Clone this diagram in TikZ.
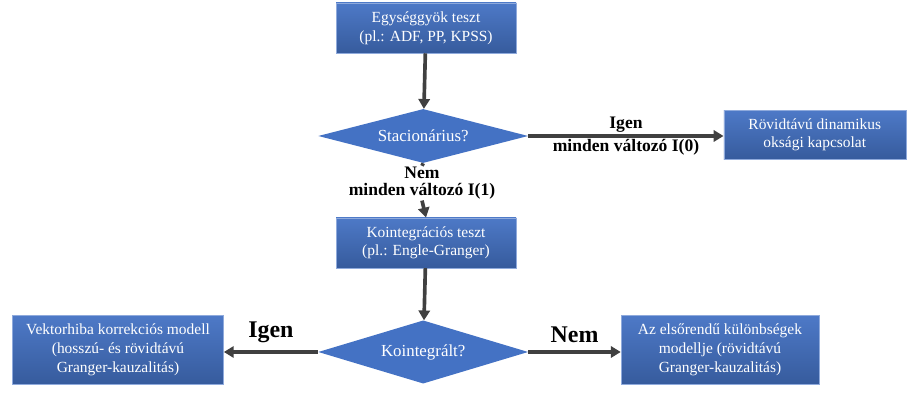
\documentclass[tikz,border=0pt]{standalone}
\usepackage{fontspec}
\setmainfont{Liberation Serif}
\usetikzlibrary{shapes.geometric,arrows.meta}
\definecolor{boxblue}{RGB}{68,114,196}
\definecolor{arrowgray}{RGB}{64,64,64}

\tikzset{
  stepbox/.style={draw=boxblue!60!white, top color=boxblue!95!white, bottom color=boxblue!80!black,
    text=white, align=center, font=\fontsize{11}{13.5}\selectfont, inner sep=2pt},
  decision/.style={diamond, fill=boxblue, text=white, font=\fontsize{12}{13}\selectfont,
    minimum width=5.25cm, minimum height=1.35cm, inner sep=0pt, aspect=4},
  arr/.style={-{Triangle[length=7pt,width=8pt]}, draw=arrowgray, line width=2.6pt},
  lbl/.style={font=\bfseries\fontsize{12.5}{11.5}\selectfont, align=center, text=black}
}

\begin{document}
\begin{tikzpicture}
  \useasboundingbox (0,0) rectangle (22.825,10);

  % Unit root test
  \node[stepbox, minimum width=4.5cm, minimum height=1.25cm] (unitroot) at (10.65,9.3)
    {Egységgyök teszt\\(pl.: ADF, PP, KPSS)};
  \node[decision] (stationary) at (10.58,6.6) {Stacionárius?};
  \node[stepbox, minimum width=4.55cm, minimum height=1.22cm] (shortrun) at (20.37,6.63)
    {Rövidtávú dinamikus\\oksági kapcsolat};
  \node[lbl, inner sep=1pt] (nolabel) at (10.55,5.42) {Nem\\minden változó I(1)};

  % Cointegration test
  \node[stepbox, minimum width=4.5cm, minimum height=1.25cm] (cointtest) at (10.65,3.93)
    {Kointegrációs teszt\\(pl.: Engle-Granger)};
  \node[decision, minimum height=1.58cm] (cointegrated) at (10.58,1.2) {Kointegrált?};
  \node[stepbox, minimum width=5.28cm, minimum height=1.72cm] (vecm) at (2.95,1.25)
    {Vektorhiba korrekciós modell\\(hosszú- és rövidtávú\\Granger-kauzalitás)};
  \node[stepbox, minimum width=4.95cm, minimum height=1.72cm] (firstdiff) at (18.0,1.25)
    {Az elsőrendű különbségek\\modellje (rövidtávú\\Granger-kauzalitás)};

  % Arrows
  \draw[arr] (unitroot) -- (stationary);
  \draw[arr] (stationary.east) -- node[lbl, above=-2pt] {Igen} node[lbl, below=-2pt] {minden változó I(0)} (shortrun.west |- stationary.east);
  \draw[draw=arrowgray, line width=2.6pt] (stationary.south) -- (nolabel.north);
  \draw[arr] (nolabel.south) -- (cointtest.north);
  \draw[arr] (cointtest) -- (cointegrated);
  \draw[arr] (cointegrated.west) -- node[lbl, above=2pt, font=\bfseries\fontsize{17}{19}\selectfont] {Igen} (vecm.east |- cointegrated.west);
  \draw[arr] (cointegrated.east) -- node[lbl, above=2pt, font=\bfseries\fontsize{17}{19}\selectfont] {Nem} (firstdiff.west |- cointegrated.east);
\end{tikzpicture}
\end{document}
